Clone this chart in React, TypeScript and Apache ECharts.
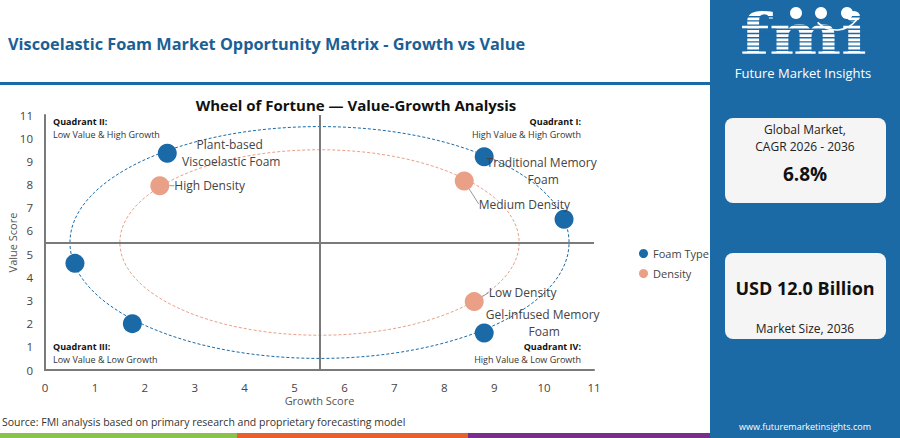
import { useEffect, useRef } from "react";
import * as echarts from "echarts";

// chart data
const FOAM_LABELS = ["Plant-based Viscoelastic Foam", "Traditional Memory Foam", "", "", "", "Gel-infused Memory Foam"];
const FOAM_GROWTH = [2.45, 8.8, 10.4, 0.6, 1.75, 8.8];
const FOAM_VALUE = [9.35, 9.2, 6.5, 4.6, 2.0, 1.6];

const DENSITY_LABELS = ["High Density", "Medium Density", "Low Density"];
const DENSITY_GROWTH = [2.3, 8.4, 8.6];
const DENSITY_VALUE = [7.95, 8.15, 2.95];

const SERIES_NAMES = ["Foam Type", "Density"];
const RING_CENTER = [5.5, 5.5];
const RING_RADII = [5, 4];
const QUADRANT_SPLIT = 5.5;
const AXIS_MAX = 11;

const QUADRANTS = [
  { title: "Quadrant II:", sub: "Low Value & High Growth" },
  { title: "Quadrant I:", sub: "High Value & High Growth" },
  { title: "Quadrant III:", sub: "Low Value & Low Growth" },
  { title: "Quadrant IV:", sub: "High Value & Low Growth" },
];

const BLUE = "#1a6aa8";
const SALMON = "#e9a087";
const PANEL = "#1b6aa6";
const FONT = "'Open Sans', sans-serif";

// label placement (styling only)
const FOAM_LABEL_OFFSETS: ([number, number] | null)[] = [[64, 0], [59, 14], null, null, null, [60, -10]];
const DENSITY_LABEL_SHIFT: { dx?: number; dy?: number }[] = [{}, { dy: 23 }, { dy: -9 }];

function buildLogo(): any[] {
  const els: any[] = [
    {
      type: "text",
      x: 740,
      y: 64,
      scaleX: 1.17,
      style: {
        text: "fmi",
        fill: "#fff",
        font: "bold 58px 'DejaVu Serif', serif",
        textVerticalAlign: "bottom",
      },
    },
  ];
  for (let y = 16; y < 54; y += 4.2) {
    els.push({ type: "rect", shape: { x: 738, y, width: 132, height: 1.4 }, style: { fill: PANEL } });
  }
  [796, 821, 847].forEach((cx) => {
    els.push({ type: "circle", shape: { cx, cy: 13, r: 6 }, style: { fill: "#fff" } });
  });
  els.push({
    type: "arc",
    shape: { cx: 836, cy: 4, r: 26, startAngle: Math.PI * 0.2, endAngle: Math.PI * 0.75 },
    style: { stroke: "#fff", lineWidth: 1.5, fill: "none" },
  });
  return els;
}

function buildGraphics(): any[] {
  const q = (x: number, y: number, align: string, item: { title: string; sub: string }) => [
    {
      type: "text",
      x,
      y,
      style: { text: item.title, fill: "#111", font: `bold 9px ${FONT}`, textAlign: align, textVerticalAlign: "middle" },
    },
    {
      type: "text",
      x,
      y: y + 13,
      style: { text: item.sub, fill: "#333", font: `9px ${FONT}`, textAlign: align, textVerticalAlign: "middle" },
    },
  ];
  return [
    { type: "rect", shape: { x: 0, y: 82, width: 712, height: 3 }, style: { fill: PANEL } },
    {
      type: "text",
      x: 8,
      y: 44,
      style: {
        text: "Viscoelastic Foam Market Opportunity Matrix - Growth vs Value",
        fill: "#1b5f94",
        font: `bold 16.3px ${FONT}`,
        textVerticalAlign: "middle",
      },
    },
    {
      type: "text",
      x: 356,
      y: 105,
      style: {
        text: "Wheel of Fortune \u2014 Value-Growth Analysis",
        fill: "#111",
        font: `bold 15px ${FONT}`,
        textAlign: "center",
        textVerticalAlign: "middle",
      },
    },
    ...q(53, 121, "left", QUADRANTS[0]),
    ...q(581, 121, "right", QUADRANTS[1]),
    ...q(53, 346, "left", QUADRANTS[2]),
    ...q(581, 346, "right", QUADRANTS[3]),
    {
      type: "text",
      x: 2,
      y: 422,
      style: {
        text: "Source: FMI analysis based on primary research and proprietary forecasting model",
        fill: "#333",
        font: `10.5px ${FONT}`,
        textVerticalAlign: "middle",
      },
    },
    { type: "rect", shape: { x: 0, y: 433, width: 237, height: 5 }, style: { fill: "#8bc34a" } },
    { type: "rect", shape: { x: 237, y: 433, width: 231, height: 5 }, style: { fill: "#e8612c" } },
    { type: "rect", shape: { x: 468, y: 433, width: 244, height: 5 }, style: { fill: "#7b2d8e" } },
    // right panel
    { type: "rect", shape: { x: 710, y: 0, width: 190, height: 438 }, style: { fill: PANEL } },
    ...buildLogo(),
    {
      type: "text",
      x: 803,
      y: 73,
      style: { text: "Future Market Insights", fill: "#fff", font: `13px ${FONT}`, textAlign: "center", textVerticalAlign: "middle" },
    },
    { type: "rect", shape: { x: 725, y: 118, width: 161, height: 85, r: 8 }, style: { fill: "#f5f5f5" } },
    {
      type: "text",
      x: 805,
      y: 138,
      style: {
        text: "Global Market,\nCAGR 2026 - 2036",
        fill: "#222",
        font: `12px ${FONT}`,
        lineHeight: 17,
        textAlign: "center",
        textVerticalAlign: "middle",
      },
    },
    {
      type: "text",
      x: 805,
      y: 174,
      style: { text: "6.8%", fill: "#111", font: `bold 19px ${FONT}`, textAlign: "center", textVerticalAlign: "middle" },
    },
    { type: "rect", shape: { x: 725, y: 253, width: 161, height: 86, r: 8 }, style: { fill: "#f5f5f5" } },
    {
      type: "text",
      x: 805,
      y: 288,
      style: { text: "USD 12.0 Billion", fill: "#111", font: `bold 18px ${FONT}`, textAlign: "center", textVerticalAlign: "middle" },
    },
    {
      type: "text",
      x: 805,
      y: 328,
      style: { text: "Market Size, 2036", fill: "#222", font: `12px ${FONT}`, textAlign: "center", textVerticalAlign: "middle" },
    },
    {
      type: "text",
      x: 805,
      y: 426,
      style: { text: "www.futuremarketinsights.com", fill: "#fff", font: `9px ${FONT}`, textAlign: "center", textVerticalAlign: "middle" },
    },
  ];
}

function ringSeries(radius: number, color: string) {
  return {
    type: "custom",
    silent: true,
    z: 1,
    clip: false,
    data: [[RING_CENTER[0], RING_CENTER[1], radius, radius]],
    renderItem: (_params: any, api: any) => {
      const c = api.coord([api.value(0), api.value(1)]);
      const s = api.size([api.value(2), api.value(3)]);
      return {
        type: "ellipse",
        shape: { cx: c[0], cy: c[1], rx: s[0], ry: s[1] },
        style: { fill: "none", stroke: color, lineWidth: 1, lineDash: [3, 2] },
      };
    },
  };
}

export default function App() {
  const ref = useRef<HTMLDivElement>(null);

  useEffect(() => {
    if (!ref.current) return;
    const chart = echarts.init(ref.current, null, { renderer: "svg" });

    const foamData = FOAM_GROWTH.map((g, i) => {
      const off = FOAM_LABEL_OFFSETS[i];
      return {
        name: FOAM_LABELS[i],
        value: [g, FOAM_VALUE[i]],
        label: off
          ? {
              show: true,
              position: "inside",
              offset: off,
              width: 118,
              overflow: "break",
              align: "center",
              verticalAlign: "middle",
              lineHeight: 17,
            }
          : { show: false },
      };
    });

    const densityData = DENSITY_GROWTH.map((g, i) => ({ name: DENSITY_LABELS[i], value: [g, DENSITY_VALUE[i]] }));

    chart.setOption({
      animation: false,
      backgroundColor: "#fff",
      textStyle: { fontFamily: FONT },
      grid: { left: 45, right: 306, top: 115, bottom: 68, containLabel: false, outerBoundsMode: "none" },
      legend: {
        data: SERIES_NAMES,
        orient: "vertical",
        left: 634,
        top: 243,
        itemGap: 9,
        icon: "circle",
        itemWidth: 9,
        itemHeight: 9,
        textStyle: { fontSize: 11, color: "#444" },
      },
      xAxis: {
        type: "value",
        min: 0,
        max: AXIS_MAX,
        interval: 1,
        name: "Growth Score",
        nameLocation: "middle",
        nameGap: 25,
        nameMoveOverlap: false,
        nameTextStyle: { fontSize: 11, color: "#555" },
        axisLine: { lineStyle: { color: "#7a7a7a", width: 2 } },
        axisTick: { show: false },
        splitLine: { show: false },
        axisLabel: { fontSize: 11.5, color: "#444", margin: 11 },
      },
      yAxis: {
        type: "value",
        min: 0,
        max: AXIS_MAX,
        interval: 1,
        name: "Value Score",
        nameLocation: "middle",
        nameGap: 27,
        nameMoveOverlap: false,
        nameTextStyle: { fontSize: 11, color: "#555" },
        axisLine: { show: true, lineStyle: { color: "#7a7a7a", width: 2 } },
        axisTick: { show: false },
        splitLine: { show: false },
        axisLabel: { fontSize: 11.5, color: "#444", margin: 12 },
      },
      series: [
        ringSeries(RING_RADII[0], BLUE),
        ringSeries(RING_RADII[1], SALMON),
        {
          name: SERIES_NAMES[0],
          type: "scatter",
          z: 3,
          symbolSize: 19,
          itemStyle: { color: BLUE, opacity: 1 },
          label: { color: "#444", fontSize: 12, formatter: "{b}" },
          data: foamData,
          markLine: {
            silent: true,
            symbol: "none",
            label: { show: false },
            lineStyle: { color: "#7a7a7a", width: 2, type: "solid" },
            data: [{ xAxis: QUADRANT_SPLIT }, { yAxis: QUADRANT_SPLIT }],
          },
        },
        {
          name: SERIES_NAMES[1],
          type: "scatter",
          z: 3,
          symbolSize: 19,
          itemStyle: { color: SALMON, opacity: 1 },
          label: {
            show: true,
            position: "right",
            distance: 5,
            color: "#444",
            fontSize: 12,
            formatter: "{b}",
          },
          labelLine: { show: true, lineStyle: { color: "#999", width: 1 } },
          labelLayout: (p: any) => DENSITY_LABEL_SHIFT[p.dataIndex] || {},
          data: densityData,
        },
      ],
      graphic: buildGraphics(),
    });

    return () => chart.dispose();
  }, []);

  return <div ref={ref} style={{ position: "fixed", left: 0, top: 0, width: 900, height: 438 }} />;
}
